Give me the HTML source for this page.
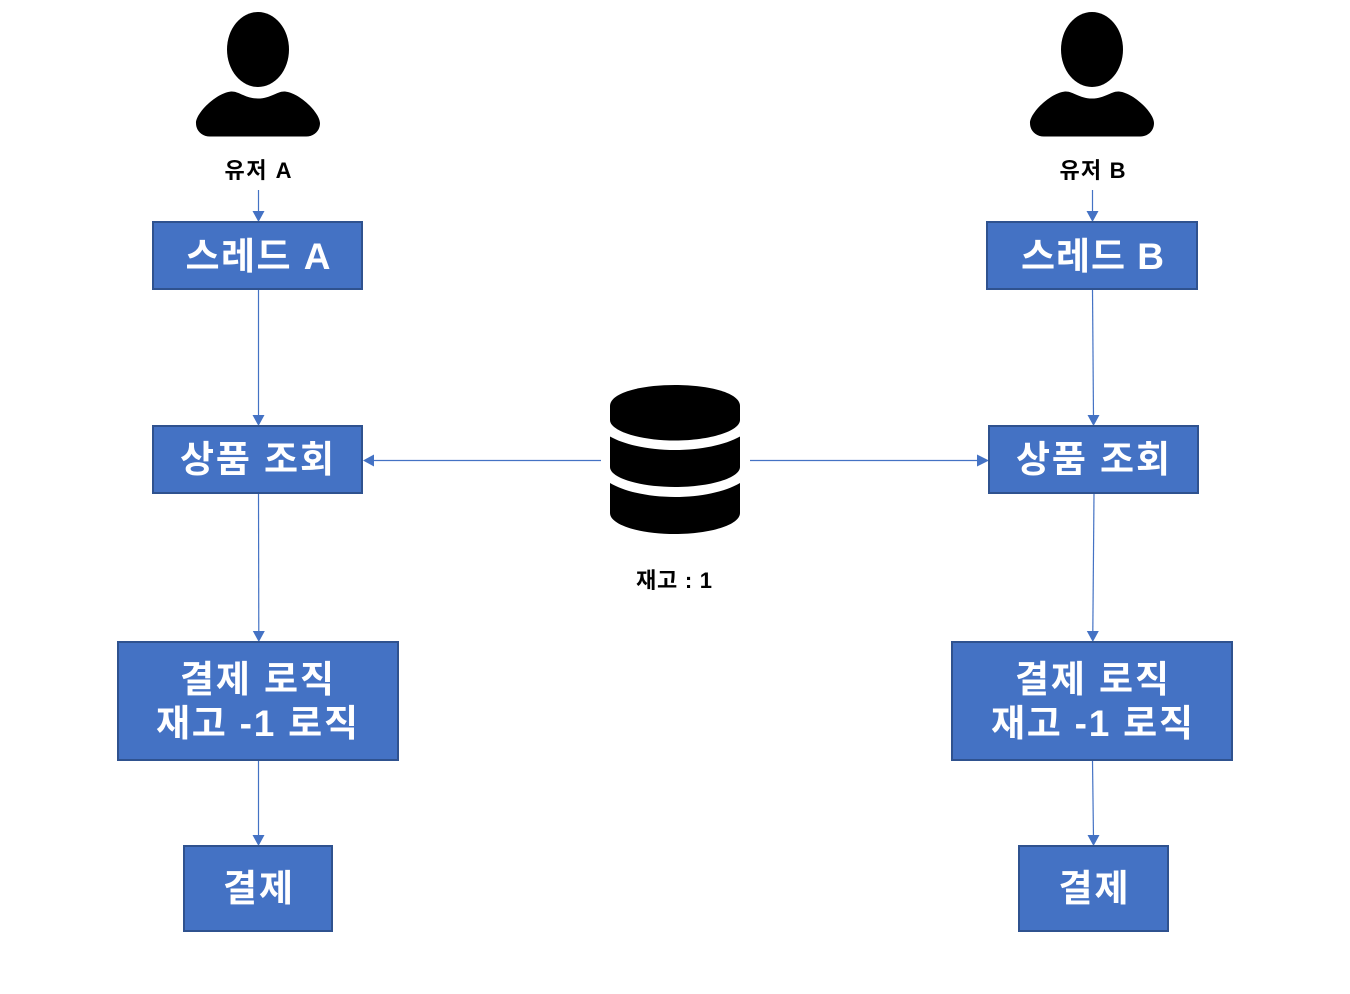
<!DOCTYPE html>
<html lang="ko"><head><meta charset="utf-8"><style>
html,body{margin:0;padding:0;background:#fff}
svg{display:block}
text{font-family:"Liberation Sans","Noto Sans CJK KR",sans-serif;font-weight:700;text-anchor:middle}
.b{fill:#fff;font-size:37px;font-family:"Liberation Sans","Noto Sans CJK KR",sans-serif}
.l{fill:#000;font-size:22px;font-family:"Liberation Sans","Noto Sans CJK KR",sans-serif;font-weight:700}
rect{fill:#4472C4;stroke:#2F528F;stroke-width:2}
line{stroke:#4472C4;stroke-width:1.2}
polygon{fill:#4472C4}
</style></head><body>
<svg width="1350" height="994" viewBox="0 0 1350 994" xmlns="http://www.w3.org/2000/svg">
<defs>
<g id="user"><ellipse cx="0" cy="49.500" rx="31" ry="37.500" fill="#000"/>
<path d="M-62 123C-62 131-56 136.500-48 136.500H48C56 136.500 62 131 62 123C62 113 42 93 27 91.500C19 91 13 98.500 0 98.500C-13 98.500-19 91-27 91.500C-42 93-62 113-62 123Z" fill="#000"/></g>
</defs>

<use href="#user" x="258"/>
<use href="#user" x="1092"/>
<text class="l" x="258" y="178" textLength="67">유저 A</text>
<text class="l" x="1092.500" y="178" textLength="66">유저 B</text>

<g>
<line x1="258.500" y1="190" x2="258.500" y2="214"/><polygon points="252.500,211 264.500,211 258.500,222"/>
<line x1="258.500" y1="290" x2="258.500" y2="418"/><polygon points="252.500,415 264.500,415 258.500,426"/>
<line x1="258.500" y1="494" x2="258.800" y2="634"/><polygon points="252.800,631 264.800,631 258.800,642"/>
<line x1="258.500" y1="761" x2="258.500" y2="838"/><polygon points="252.500,835 264.500,835 258.500,846"/>
<line x1="1092.500" y1="190" x2="1092.500" y2="214"/><polygon points="1086.500,211 1098.500,211 1092.500,222"/>
<line x1="1092.500" y1="290" x2="1093.500" y2="418"/><polygon points="1087.500,415 1099.500,415 1093.500,426"/>
<line x1="1094" y1="494" x2="1092.800" y2="634"/><polygon points="1086.800,631 1098.800,631 1092.800,642"/>
<line x1="1092.500" y1="761" x2="1093.500" y2="838"/><polygon points="1087.500,835 1099.500,835 1093.500,846"/>
<line x1="601" y1="460.500" x2="370" y2="460.500"/><polygon points="374,454.500 374,466.500 363,460.500"/>
<line x1="750" y1="460.500" x2="981" y2="460.500"/><polygon points="977,454.500 977,466.500 989,460.500"/>
</g>

<rect x="153" y="222" width="209" height="67"/>
<rect x="987" y="222" width="210" height="67"/>
<rect x="153" y="426" width="209" height="67"/>
<rect x="989" y="426" width="209" height="67"/>
<rect x="118" y="642" width="280" height="118"/>
<rect x="952" y="642" width="280" height="118"/>
<rect x="184" y="846" width="148" height="85"/>
<rect x="1019" y="846" width="149" height="85"/>

<text class="b" x="258" y="269" textLength="145">스레드 A</text>
<text class="b" x="1092.500" y="269" textLength="143">스레드 B</text>
<text class="b" x="257" y="472" textLength="154">상품 조회</text>
<text class="b" x="1093" y="472" textLength="154">상품 조회</text>
<text class="b" x="257" y="692" textLength="154">결제 로직</text>
<text class="b" x="257" y="736" textLength="202">재고 -1 로직</text>
<text class="b" x="1092" y="692" textLength="154">결제 로직</text>
<text class="b" x="1092" y="736" textLength="202">재고 -1 로직</text>
<text class="b" x="258" y="901" textLength="70">결제</text>
<text class="b" x="1093.500" y="901" textLength="70">결제</text>

<path fill="#000" d="M610 406C610 393 640 385 675 385C710 385 740 393 740 406V420C740 431 710 440.500 675 440.500C640 440.500 610 431 610 420Z"/>
<path fill="#000" d="M610 436.500C625 445 650 450 675 450C700 450 725 445 740 436.500V467C740 478 710 487 675 487C640 487 610 478 610 467Z"/>
<path fill="#000" d="M610 483C625 492 650 497 675 497C700 497 725 492 740 483V513C740 525 710 534 675 534C640 534 610 525 610 513Z"/>
<text class="l" x="674" y="588" textLength="76">재고 : 1</text>
</svg>
</body></html>
